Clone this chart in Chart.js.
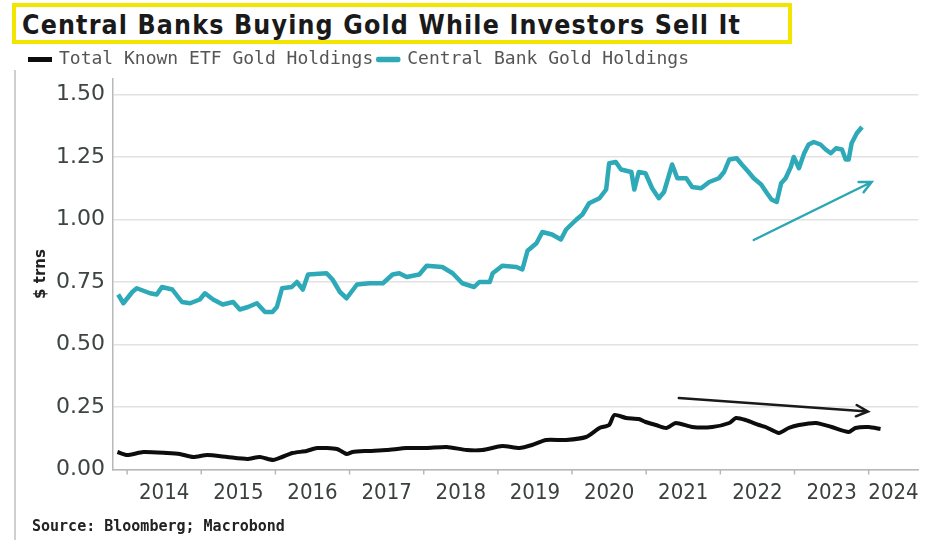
<!DOCTYPE html>
<html>
<head>
<meta charset="utf-8">
<script src="https://cdn.jsdelivr.net/npm/chart.js@4/dist/chart.umd.min.js"></script>
<style>
  html, body { margin: 0; padding: 0; background: #fff; }
  #wrap { position: relative; width: 930px; height: 540px; overflow: hidden; }
  #goldChart { position: absolute; left: 0; top: 0; }
  #title {
    position: absolute; left: 12px; top: 3px; width: 766px; height: 33px;
    border: 4px solid #f2e600; background: #fff;
    font: bold 26.5px 'DejaVu Sans Condensed', 'DejaVu Sans', sans-serif;
    letter-spacing: 1.15px;
    color: #1a1a1a; line-height: 35px; padding-left: 6px; white-space: nowrap;
  }
  #frame { position: absolute; left: 14px; top: 70px; width: 2px; height: 470px; background: #cfcfcf; }
  #source {
    position: absolute; left: 32px; top: 517px;
    font: bold 15px 'DejaVu Sans Mono', monospace; color: #222; white-space: nowrap;
  }
</style>
</head>
<body>
<div id="wrap">
  <canvas id="goldChart" width="930" height="540"></canvas>
  <div id="frame"></div>
  <div id="title">Central Banks Buying Gold While Investors Sell It</div>
  <div id="source">Source: Bloomberg; Macrobond</div>
</div>
<script>
// ---------- Data (x in decimal years, y in $ trillions) ----------
const seriesNames = ["Total Known ETF Gold Holdings", "Central Bank Gold Holdings"];

const etfYears = [2013.87, 2014.00, 2014.22, 2014.54, 2014.71, 2014.89, 2015.08, 2015.35, 2015.62, 2015.79,
  2015.97, 2016.09, 2016.23, 2016.42, 2016.56, 2016.83, 2016.96, 2017.04, 2017.23, 2017.50,
  2017.77, 2018.04, 2018.31, 2018.58, 2018.79, 2019.06, 2019.29, 2019.46, 2019.65, 2019.92,
  2020.19, 2020.37, 2020.50, 2020.57, 2020.73, 2020.90, 2020.99, 2021.13, 2021.27, 2021.40,
  2021.62, 2021.89, 2022.12, 2022.21, 2022.34, 2022.52, 2022.61, 2022.79, 2022.92, 2023.06,
  2023.29, 2023.50, 2023.73, 2023.82, 2024.00, 2024.16];
const etfValues = [0.070, 0.058, 0.070, 0.066, 0.062, 0.050, 0.058, 0.050, 0.042, 0.050,
  0.038, 0.050, 0.066, 0.074, 0.086, 0.082, 0.062, 0.070, 0.074, 0.078,
  0.086, 0.086, 0.090, 0.078, 0.078, 0.094, 0.086, 0.098, 0.118, 0.118,
  0.130, 0.166, 0.178, 0.218, 0.206, 0.202, 0.190, 0.178, 0.166, 0.186,
  0.170, 0.170, 0.186, 0.206, 0.198, 0.178, 0.170, 0.146, 0.166, 0.178,
  0.186, 0.170, 0.150, 0.166, 0.170, 0.162];

const cbYears = [2013.88, 2013.95, 2014.07, 2014.13, 2014.31, 2014.40, 2014.47, 2014.61, 2014.74, 2014.85,
  2014.98, 2015.05, 2015.16, 2015.29, 2015.43, 2015.52, 2015.63, 2015.75, 2015.86, 2015.96,
  2016.02, 2016.09, 2016.22, 2016.29, 2016.37, 2016.44, 2016.69, 2016.77, 2016.87, 2016.96,
  2017.10, 2017.27, 2017.45, 2017.58, 2017.67, 2017.77, 2017.94, 2018.04, 2018.25, 2018.39,
  2018.52, 2018.68, 2018.75, 2018.89, 2018.93, 2019.06, 2019.25, 2019.33, 2019.40, 2019.52,
  2019.60, 2019.73, 2019.85, 2019.92, 2020.06, 2020.14, 2020.23, 2020.37, 2020.46, 2020.50,
  2020.59, 2020.66, 2020.80, 2020.84, 2020.90, 2020.99, 2021.08, 2021.17, 2021.24, 2021.35,
  2021.42, 2021.54, 2021.62, 2021.74, 2021.85, 2021.98, 2022.05, 2022.12, 2022.22, 2022.29,
  2022.38, 2022.45, 2022.55, 2022.63, 2022.69, 2022.76, 2022.82, 2022.88, 2022.95, 2022.99,
  2023.06, 2023.13, 2023.19, 2023.26, 2023.35, 2023.42, 2023.49, 2023.56, 2023.64, 2023.69,
  2023.73, 2023.77, 2023.84, 2023.91];
const cbValues = [0.700, 0.665, 0.710, 0.725, 0.705, 0.700, 0.730, 0.720, 0.670, 0.665,
  0.680, 0.705, 0.680, 0.660, 0.670, 0.640, 0.650, 0.665, 0.630, 0.630,
  0.650, 0.725, 0.730, 0.750, 0.720, 0.780, 0.785, 0.760, 0.710, 0.685,
  0.740, 0.745, 0.745, 0.780, 0.785, 0.770, 0.780, 0.815, 0.810, 0.785,
  0.745, 0.730, 0.750, 0.750, 0.785, 0.815, 0.810, 0.800, 0.875, 0.905,
  0.950, 0.940, 0.920, 0.960, 1.000, 1.020, 1.065, 1.085, 1.120, 1.225,
  1.230, 1.200, 1.190, 1.120, 1.190, 1.185, 1.125, 1.085, 1.110, 1.220,
  1.165, 1.165, 1.130, 1.125, 1.150, 1.165, 1.190, 1.240, 1.245, 1.220,
  1.190, 1.165, 1.140, 1.105, 1.080, 1.070, 1.145, 1.165, 1.210, 1.250,
  1.205, 1.265, 1.300, 1.310, 1.300, 1.280, 1.265, 1.285, 1.280, 1.240,
  1.240, 1.305, 1.345, 1.370];

const xLabels = ["2014", "2015", "2016", "2017", "2018", "2019", "2020", "2021", "2022", "2023", "2024"];
const yTicks = [0, 0.25, 0.5, 0.75, 1.0, 1.25, 1.5];

// hand-drawn trend arrows on the original, in data coordinates
const trendArrows = [
  { from: [2022.45, 0.918], to: [2024.04, 1.15], color: "#2aa6b5" },
  { from: [2021.44, 0.286], to: [2023.99, 0.232], color: "#1a1a1a" }
];

// ---------- Plugins ----------
const yearTicks = {
  id: 'yearTicks',
  afterDraw(chart) {
    const { ctx, chartArea, scales: { x } } = chart;
    ctx.save();
    ctx.strokeStyle = '#b8b8b8';
    ctx.lineWidth = 1.5;
    xLabels.forEach(lab => {
      const px = x.getPixelForValue(Number(lab));
      ctx.beginPath();
      ctx.moveTo(px, chartArea.bottom);
      ctx.lineTo(px, chartArea.bottom + 5);
      ctx.stroke();
    });
    ctx.restore();
  }
};

const arrows = {
  id: 'arrows',
  afterDatasetsDraw(chart) {
    const { ctx, scales: { x, y } } = chart;
    trendArrows.forEach(a => {
      const x1 = x.getPixelForValue(a.from[0]), y1 = y.getPixelForValue(a.from[1]);
      const x2 = x.getPixelForValue(a.to[0]), y2 = y.getPixelForValue(a.to[1]);
      const ang = Math.atan2(y2 - y1, x2 - x1);
      const h = 13;
      ctx.save();
      ctx.strokeStyle = a.color;
      ctx.lineWidth = 2.5;
      ctx.lineCap = 'round';
      ctx.beginPath();
      ctx.moveTo(x1, y1);
      ctx.lineTo(x2, y2);
      ctx.moveTo(x2 - h * Math.cos(ang - 0.45), y2 - h * Math.sin(ang - 0.45));
      ctx.lineTo(x2, y2);
      ctx.lineTo(x2 - h * Math.cos(ang + 0.45), y2 - h * Math.sin(ang + 0.45));
      ctx.stroke();
      ctx.restore();
    });
  }
};

// ---------- Chart ----------
const xMin = 2013.81, xMax = 2024.67;

new Chart(document.getElementById('goldChart'), {
  type: 'line',
  data: {
    datasets: [
      {
        label: seriesNames[0],
        data: etfYears.map((t, i) => ({ x: t, y: etfValues[i] })),
        borderColor: '#0d0d0d',
        backgroundColor: '#0d0d0d',
        borderWidth: 4,
        pointRadius: 0,
        tension: 0.2
      },
      {
        label: seriesNames[1],
        data: cbYears.map((t, i) => ({ x: t, y: cbValues[i] })),
        borderColor: '#2ea9b8',
        backgroundColor: '#5cc6d2',
        borderWidth: 4.5,
        pointRadius: 0,
        borderJoinStyle: 'round'
      }
    ]
  },
  options: {
    responsive: false,
    animation: false,
    layout: { padding: { top: 45.5, left: 25, right: 10, bottom: 25.5 } },
    plugins: {
      legend: {
        display: true,
        position: 'top',
        align: 'start',
        labels: {
          boxWidth: 20,
          boxHeight: 1,
          padding: 5,
          color: '#555',
          font: { family: "'DejaVu Sans Mono', monospace", size: 18 }
        }
      },
      tooltip: { enabled: false }
    },
    scales: {
      x: {
        type: 'linear',
        min: xMin,
        max: xMax,
        afterBuildTicks: axis => {
          axis.ticks = xLabels.map((lab, i) => {
            const yr = Number(lab);
            return { value: i < xLabels.length - 1 ? yr + 0.5 : (yr + xMax) / 2 };
          });
        },
        afterFit: axis => { axis.height = 45; },
        grid: { display: false, drawTicks: false },
        border: { display: true, color: '#b8b8b8', width: 1.5 },
        ticks: {
          autoSkip: false,
          maxRotation: 0,
          padding: 11,
          color: '#3b403d',
          font: { family: "'DejaVu Sans Condensed', sans-serif", size: 22 },
          callback: (v, i) => xLabels[i]
        }
      },
      y: {
        min: 0,
        max: 1.564,
        afterBuildTicks: axis => { axis.ticks = yTicks.map(v => ({ value: v })); },
        afterFit: axis => { axis.width = 88; },
        grid: { color: '#e2e2e2', lineWidth: 1.5, drawTicks: false },
        border: { display: true, color: '#b8b8b8', width: 1.5 },
        title: {
          display: true,
          text: '$ trns',
          color: '#222',
          padding: { top: 7, bottom: 0 },
          font: { family: "'DejaVu Sans', sans-serif", size: 15, weight: 'bold' }
        },
        ticks: {
          padding: 8,
          color: '#3d4542',
          font: { family: "'DejaVu Sans', sans-serif", size: 22 },
          callback: v => v.toFixed(2)
        }
      }
    }
  },
  plugins: [yearTicks, arrows]
});
</script>
</body>
</html>
